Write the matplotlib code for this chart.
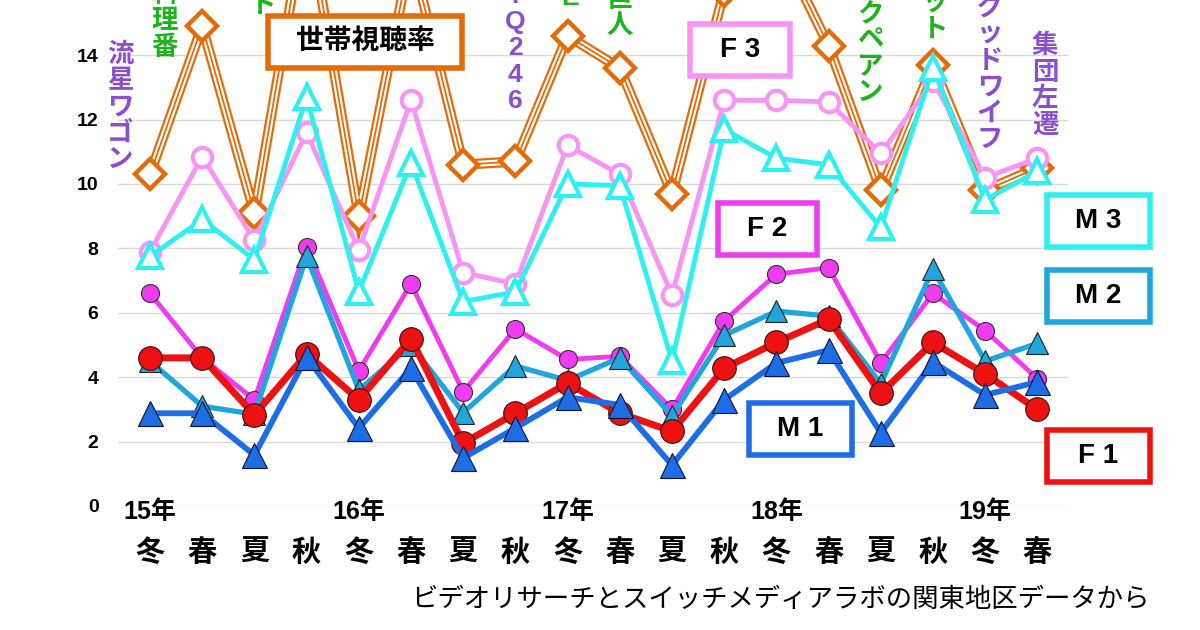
import matplotlib
matplotlib.use("Agg")
import matplotlib.pyplot as plt
from matplotlib.patches import Rectangle

plt.rcParams['font.family'] = ['Liberation Sans', 'Noto Sans CJK JP', 'DejaVu Sans']

# seasons, 2015 winter .. 2019 spring
seasons = ['冬', '春', '夏', '秋'] * 4 + ['冬', '春']
years = ['15年', '16年', '17年', '18年', '19年']
year_pos = [0, 4, 8, 12, 16]

household = [10.3, 14.9, 9.1, 18.5, 9.0, 17.2, 10.6, 10.7, 14.6, 13.6,
             9.7, 16.0, 17.6, 14.3, 9.8, 13.7, 9.8, 10.5]
f3 = [7.9, 10.85, 8.25, 11.6, 7.95, 12.6, 7.25, 6.9, 11.2, 10.3,
      6.55, 12.6, 12.6, 12.55, 10.95, 13.2, 10.2, 10.8]
m3 = [7.75, 8.9, 7.65, 12.7, 6.65, 10.65, 6.35, 6.65, 10.0, 9.95,
      4.5, 11.7, 10.8, 10.6, 8.65, 13.6, 9.5, 10.4]
f2 = [6.6, 4.6, 3.3, 8.05, 4.2, 6.9, 3.55, 5.5, 4.55, 4.65,
      3.0, 5.75, 7.2, 7.4, 4.45, 6.6, 5.45, 3.95]
m2 = [4.5, 3.1, 2.85, 7.75, 3.6, 5.0, 2.9, 4.35, 3.9, 4.6,
      2.8, 5.3, 6.05, 5.9, 3.8, 7.35, 4.5, 5.05]
m1 = [2.88, 2.88, 1.58, 4.63, 2.42, 4.28, 1.49, 2.42, 3.38, 3.14,
      1.27, 3.3, 4.44, 4.84, 2.27, 4.47, 3.45, 3.85]
f1 = [4.6, 4.6, 2.83, 4.72, 3.3, 5.2, 1.95, 2.88, 3.82, 2.88,
      2.32, 4.28, 5.08, 5.8, 3.5, 5.08, 4.1, 3.0]

# drama titles (shown vertically above the household line, cut by the top edge)
titles = ['流星ワゴン', '天皇の料理番', '下町ロケット', 'IQ246', 'ALIFE',
          '小さな巨人', 'ブラックペアン', '下町ロケット', 'グッドワイフ', '集団左遷']
title_x = [120, 165, 263, 515, 570, 620, 870, 935, 990, 1045]
title_bottom = [172, 60, 18, 113, 10, 38, 105, 42, 152, 138]
title_col = ['p', 'g', 'g', 'p', 'g', 'g', 'g', 'g', 'p', 'p']

orange = '#e36c0a'
pink = '#f794f4'
cyan = '#2ff0f0'
magenta = '#f03cf0'
lblue = '#1fa6dc'
blue = '#1d6de5'
red = '#ee1111'
green = '#1db31d'
purple = '#8a4fcf'

W, H = 1200, 630
fig = plt.figure(figsize=(12, 6.3), dpi=100)
ax = fig.add_axes([118 / W, 124 / H, 950 / W, 506 / H])
x = list(range(len(seasons)))

# household: triple line with open diamonds
ax.plot(x, household, color=orange, lw=7.5, zorder=2, solid_joinstyle='miter')
ax.plot(x, household, color='white', lw=4.3, zorder=2.1, solid_joinstyle='miter')
ax.plot(x, household, color=orange, lw=1.3, zorder=2.2)
ax.plot(x, household, ls='none', marker='D', ms=15.5, mfc='white', mec=orange, mew=3.2, zorder=2.3)

ax.plot(x, f3, color=pink, lw=3.5, marker='o', ms=14, mfc='white', mec=pink, mew=3, zorder=3)
ax.plot(x, m3, color=cyan, lw=3.5, marker='^', ms=17, mfc='white', mec=cyan, mew=3, zorder=4)
ax.plot(x, f2, color=magenta, lw=3.5, marker='o', ms=13, mfc=magenta, mec='#333333', mew=0.8, zorder=5)
ax.plot(x, m2, color=lblue, lw=3.8, marker='^', ms=16, mfc=lblue, mec='#222222', mew=0.8, zorder=6)
ax.plot(x, f1, color=red, lw=5, marker='o', ms=17, mfc=red, mec='#331111', mew=0.8, zorder=7)
ax.plot(x, m1, color=blue, lw=4.2, marker='^', ms=18, mfc=blue, mec='#111133', mew=0.8, zorder=8)

ax.set_xlim((118 - 150) / 52.2, (1068 - 150) / 52.2)
ax.set_ylim(0, 506 / 32.2)
ax.set_yticks(range(0, 15, 2))
ax.set_yticklabels([str(v) for v in range(0, 15, 2)], fontsize=14, fontweight='bold')
ax.set_xticks(x)
ax.set_xticklabels(seasons, fontsize=21, fontweight='bold')
ax.tick_params(axis='y', length=0, pad=14)
ax.tick_params(axis='x', length=0, pad=24)
ax.grid(axis='y', color='#d9d9d9', lw=1)
ax.set_axisbelow(True)
for s in ax.spines.values():
    s.set_visible(False)

for yl, p in zip(years, year_pos):
    ax.text(p, -0.2, yl, ha='center', va='center', fontsize=18, fontweight='bold')

for t, tx, tb, c in zip(titles, title_x, title_bottom, title_col):
    fig.text(tx / W, 1 - tb / H, '\n'.join(t), ha='center', va='bottom',
             fontsize=19, fontweight='bold', linespacing=1.12,
             color=purple if c == 'p' else green)

# legend boxes
boxes = [('世帯視聴率', orange, 268, 16, 194, 52),
         ('F 3', pink, 690, 24, 100, 52),
         ('F 2', magenta, 718, 203, 99, 52),
         ('M 3', cyan, 1047, 195, 103, 52),
         ('M 2', lblue, 1047, 270, 103, 52),
         ('M 1', blue, 749, 403, 103, 52),
         ('F 1', red, 1047, 430, 103, 52)]
for label, col, bx, by, bw, bh in boxes:
    fig.add_artist(Rectangle((bx / W, 1 - (by + bh) / H), bw / W, bh / H,
                             transform=fig.transFigure, facecolor='white',
                             edgecolor=col, lw=4, zorder=10))
    fig.text((bx + bw / 2) / W, 1 - (by + bh / 2) / H, label, ha='center', va='center',
             fontsize=20, fontweight='bold', zorder=11)

fig.text(1150 / W, 1 - 600 / H, 'ビデオリサーチとスイッチメディアラボの関東地区データから',
         ha='right', va='center', fontsize=19)

fig.savefig('out.png', dpi=100)
